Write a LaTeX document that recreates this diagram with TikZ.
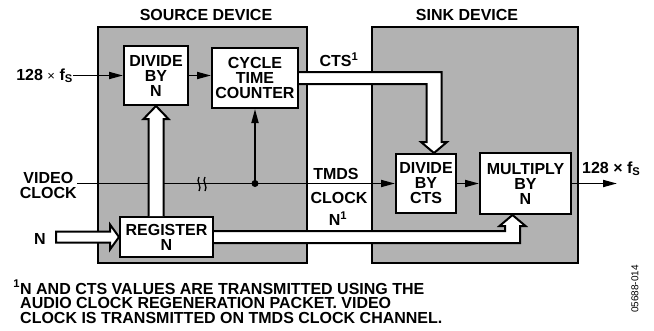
\documentclass[tikz,border=0pt]{standalone}
\usepackage{fontspec}
\setmainfont{Liberation Sans}
\usetikzlibrary{arrows.meta, positioning, calc}

\begin{document}
\begin{tikzpicture}[
    x=1pt, y=-1pt,
    >={Triangle[length=14pt,width=7pt]},
    font=\fontsize{16}{15}\selectfont\bfseries,
    device/.style={
        draw,
        line width=2.2pt,
        fill=black!30,
        inner sep=0pt
    },
    blk/.style={
        draw,
        line width=2pt,
        fill=white,
        align=center,
        inner sep=1pt
    },
    sig/.style={
        line width=1.8pt
    },
    fat/.style={
        draw,
        line width=2pt,
        fill=white,
        line join=miter
    },
    lab/.style={
        inner sep=0pt,
        align=center
    }
]
\useasboundingbox (0,0) rectangle (654,330);

% =========================================================
% Devices
% =========================================================
\node[device, minimum width=209pt, minimum height=236pt] (src) at (202.5,145) {};
\node[device, minimum width=206pt, minimum height=236pt] (snk) at (475,145) {};

\node[lab, above=5pt of src.north, xshift=3.5pt] (srct) {SOURCE DEVICE};
\node[lab, above=5pt of snk.north, xshift=-8pt]  (snkt) {SINK DEVICE};

% =========================================================
% Blocks
% =========================================================
\node[blk, minimum width=64pt, minimum height=59pt] (divn) at (156,75.5) {DIVIDE\\BY\\N};
\node[blk, minimum width=86pt, minimum height=60pt] (ctc)  at (255,78)   {CYCLE\\TIME\\COUNTER};
\node[blk, minimum width=93pt, minimum height=40pt] (reg)  at (166.5,237) {REGISTER\\N};

\node[blk, minimum width=60pt, minimum height=59pt] (dcts) at (426,183.5) {DIVIDE\\BY\\CTS};
\node[blk, minimum width=91pt, minimum height=61pt] (mul)  at (525.5,183.5) {MULTIPLY\\BY\\N};

% =========================================================
% Labels
% =========================================================
\node[lab, anchor=base east] (fsin) at (73,80) {128 {\mdseries\fontsize{13}{15}\selectfont×} f\textsubscript{S}};
\node[lab, anchor=east] (vid)  at (77,185.5) {VIDEO\\CLOCK};
\node[lab, anchor=east] (nlab) at (46,238.5) {N};

\node[lab] (ctsl) at (339,60)  {CTS\textsuperscript{1}};
\node[lab] (tmds) at (336,174) {TMDS};
\node[lab] (tclk) at (339,198) {CLOCK};
\node[lab] (nsup) at (338,219) {N\textsuperscript{1}};

\node[lab, anchor=base west] (fsout) at (582,173) {128 × f\textsubscript{S}};
\coordinate (out) at (617,184);

\node[lab, align=left, anchor=north west, font=\fontsize{16}{14.5}\selectfont\bfseries] (note) at (20,280)
    {\llap{\textsuperscript{1}}N AND CTS VALUES ARE TRANSMITTED USING THE\\
     AUDIO CLOCK REGENERATION PACKET. VIDEO\\
     CLOCK IS TRANSMITTED ON TMDS CLOCK CHANNEL.};

\node[lab, rotate=90, font=\normalfont\fontsize{10}{12}\selectfont] (fig) at (635,289) {05688-014};

% =========================================================
% Video clock path
% =========================================================
\draw[sig,->] (vid.east |- dcts.west) -- (dcts.west);

% =========================================================
% Wide data arrows
% =========================================================
% N into register
\path[fat] let \p1=(reg.west), \p2=(nlab.east) in
    (\x2+10pt,\y1+5.5pt) -- (\x1-9pt,\y1+5.5pt) -- (\x1-9pt,\y1+12.5pt) -- (\x1,\y1)
    -- (\x1-9pt,\y1-12.5pt) -- (\x1-9pt,\y1-5.5pt) -- (\x2+10pt,\y1-5.5pt) -- cycle;

% register up to divider
\path[fat] let \p1=(reg.north), \p2=(divn.south) in
    (\x2-7.5pt,\y1) -- (\x2-7.5pt,\y2-13pt) -- (\x2-12.5pt,\y2-13pt) -- (\x2,\y2)
    -- (\x2+12.5pt,\y2-13pt) -- (\x2+7.5pt,\y2-13pt) -- (\x2+7.5pt,\y1);

% CTS over to sink
\path[fat] let \p1=(ctc.east), \p2=(dcts.north), \p3=([xshift=8pt]dcts.north) in
    (\x1,\y1+6pt) -- (\x3+7.5pt,\y1+6pt) -- (\x3+7.5pt,\y2+11pt) -- (\x3+13pt,\y2+11pt)
    -- (\x3,\y2) -- (\x3-13pt,\y2+11pt) -- (\x3-7.5pt,\y2+11pt) -- (\x3-7.5pt,\y1-6pt)
    -- (\x1,\y1-6pt);

% N over to multiplier
\path[fat] let \p1=(reg.east), \p2=(mul.south), \p3=([xshift=-13pt]mul.south) in
    (\x1,\y1+6pt) -- (\x3-7.5pt,\y1+6pt) -- (\x3-7.5pt,\y2-11pt) -- (\x3-13pt,\y2-11pt)
    -- (\x3,\y2) -- (\x3+13pt,\y2-11pt) -- (\x3+7.5pt,\y2-11pt) -- (\x3+7.5pt,\y1-6pt)
    -- (\x1,\y1-6pt);

% =========================================================
% Thin signal arrows
% =========================================================
\draw[sig,->] (fsin.east |- divn.west) -- (divn.west);
\draw[sig,->] (divn.east) -- (divn.east -| ctc.west);

\coordinate (tap) at (ctc.south |- dcts.west);
\draw[sig,->] (tap) -- (ctc.south);
\fill (tap) circle (3.5pt);

\draw[sig,->] (dcts.east) -- (dcts.east -| mul.west);
\draw[sig,->] (mul.east) -- (mul.east -| out);

% break mark on the video clock
\draw[line width=1.3pt] (199,177) .. controls (195.5,181) and (202.5,187) .. (199,191);
\draw[line width=1.3pt] (205,177) .. controls (201.5,181) and (208.5,187) .. (205,191);

\end{tikzpicture}
\end{document}
